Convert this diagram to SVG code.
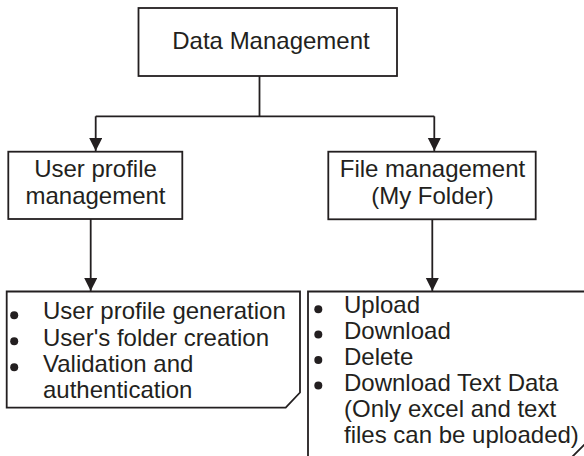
<svg xmlns="http://www.w3.org/2000/svg" width="584" height="456" viewBox="0 0 584 456">
  <style>
    .box { fill: #ffffff; stroke: #231f20; stroke-width: 1.8; }
    .wire { fill: none; stroke: #231f20; stroke-width: 1.8; }
    .label { font-family: "Liberation Sans", Arial, sans-serif; font-size: 24px; fill: #231f20; }
    .mid { text-anchor: middle; }
    .dot { fill: #231f20; }
  </style>
  <defs>
    <marker id="arrow" markerWidth="14" markerHeight="14" refX="13" refY="6.5" orient="auto" markerUnits="userSpaceOnUse">
      <path d="M0,0 L13,6.5 L0,13 Z" fill="#231f20"/>
    </marker>
  </defs>
  <rect width="584" height="456" fill="#ffffff"/>

  <!-- connectors -->
  <g id="connectors">
    <path class="wire" d="M259.5,76 V116.3"/>
    <path class="wire" d="M95.7,116.3 H434.3"/>
    <path class="wire" d="M95.7,116.3 V151" marker-end="url(#arrow)"/>
    <path class="wire" d="M434.3,116.3 V151" marker-end="url(#arrow)"/>
    <path class="wire" d="M90.7,219 V291" marker-end="url(#arrow)"/>
    <path class="wire" d="M432.3,219 V291" marker-end="url(#arrow)"/>
  </g>

  <!-- root node -->
  <g id="data-management">
    <rect class="box" x="138.5" y="8" width="258.5" height="68"/>
    <text class="label mid" x="271" y="49">Data Management</text>
  </g>

  <!-- user profile branch -->
  <g id="user-profile-management">
    <rect class="box" x="8.3" y="151.7" width="174" height="67.3"/>
    <text class="label mid" x="95.5" y="177">User profile</text>
    <text class="label mid" x="95.5" y="203.5">management</text>
  </g>

  <!-- file management branch -->
  <g id="file-management">
    <rect class="box" x="328.3" y="151.7" width="207.4" height="67.6"/>
    <text class="label mid" x="432.5" y="177">File management</text>
    <text class="label mid" x="432.5" y="203.5">(My Folder)</text>
  </g>

  <!-- user profile tasks -->
  <g id="user-profile-tasks">
    <path class="box" d="M6.7,291.5 H300 V392.5 L285.7,407.7 H6.7 Z"/>
    <circle class="dot" cx="14.2" cy="315.3" r="4"/>
    <circle class="dot" cx="14.2" cy="341.3" r="4"/>
    <circle class="dot" cx="14.2" cy="367.3" r="4"/>
    <text class="label" x="43" y="319.3">User profile generation</text>
    <text class="label" x="43" y="345.7">User's folder creation</text>
    <text class="label" x="43" y="371.7">Validation and</text>
    <text class="label" x="43" y="398.3">authentication</text>
  </g>

  <!-- file management tasks -->
  <g id="file-tasks">
    <path class="box" d="M308,470 V291.5 H592 V437 L559,470"/>
    <circle class="dot" cx="318.3" cy="309.3" r="4"/>
    <circle class="dot" cx="318.3" cy="334.5" r="4"/>
    <circle class="dot" cx="318.3" cy="360" r="4"/>
    <circle class="dot" cx="318.3" cy="385.5" r="4"/>
    <text class="label" x="344" y="313.3">Upload</text>
    <text class="label" x="344" y="339.3">Download</text>
    <text class="label" x="344" y="365">Delete</text>
    <text class="label" x="344" y="391">Download Text Data</text>
    <text class="label" x="344" y="416.7">(Only excel and text</text>
    <text class="label" x="344" y="442.7">files can be uploaded)</text>
  </g>
</svg>
